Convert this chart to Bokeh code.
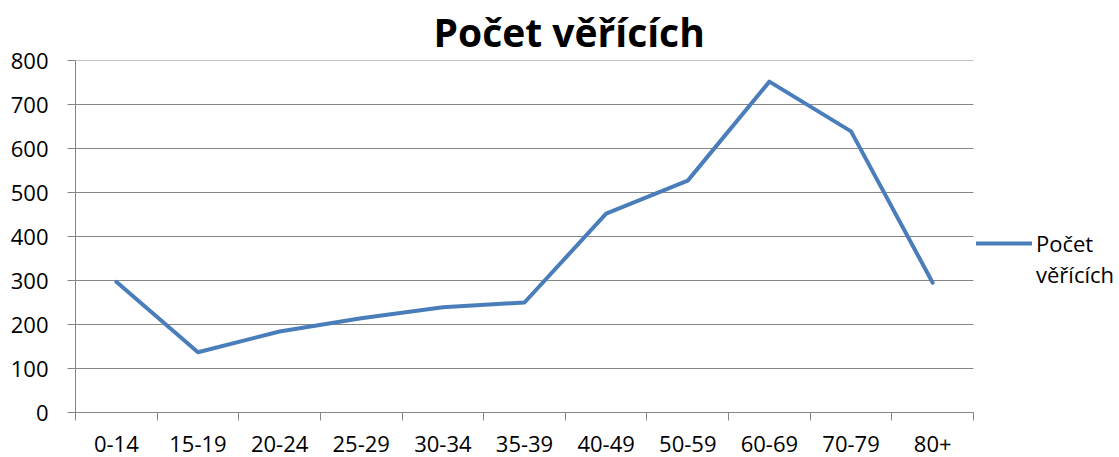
from bokeh.plotting import figure
from bokeh.models import (Range1d, FixedTicker, Legend, LegendItem)
from bokeh.embed import file_html
from bokeh.resources import INLINE

categories = ["0-14", "15-19", "20-24", "25-29", "30-34", "35-39",
              "40-49", "50-59", "60-69", "70-79", "80+"]
believers = [297, 137, 184, 214, 239, 250, 452, 527, 752, 639, 295]
y_ticks = [0, 100, 200, 300, 400, 500, 600, 700, 800]
title_text = "Počet věřících"
series_lines = ["Počet", "věřících"]

FONT = "Open Sans"
GRAY = "#868686"
BLUE = "#4A7EBB"

W, H = 1119, 457
PLOT_LEFT, PLOT_RIGHT = 75, 973      # pixel extent of the category area
n = len(categories)
x_pos = [i + 0.5 for i in range(n)]
# the frame runs to the right edge so the legend can sit inside it
x_end = n * (W - PLOT_LEFT) / (PLOT_RIGHT - PLOT_LEFT)

p = figure(width=W, height=H, output_backend="svg", toolbar_location=None,
           x_range=Range1d(0, x_end), y_range=Range1d(0, y_ticks[-1]),
           min_border_left=PLOT_LEFT, min_border_right=0, min_border_top=60,
           min_border_bottom=45)
p.outline_line_color = None
p.background_fill_color = "white"
p.border_fill_color = "white"

p.title.text = title_text
p.title.align = "left"
p.title.offset = 358
p.title.standoff = 5
p.title.text_font = FONT
p.title.text_font_size = "39px"
p.title.text_font_style = "bold"
p.title.text_color = "#000000"

# y axis
ya = p.yaxis[0]
ya.ticker = FixedTicker(ticks=y_ticks)
ya.axis_line_color = GRAY
ya.major_tick_line_color = GRAY
ya.major_tick_in = 0
ya.major_tick_out = 8
ya.minor_tick_line_color = None
ya.major_label_text_font = FONT
ya.major_label_text_font_size = "22px"
ya.major_label_text_color = "#000000"
ya.major_label_standoff = 19

# x axis: labels at category centres, tick marks at category boundaries
xa = p.xaxis[0]
xa.bounds = (0, n)
xa.ticker = FixedTicker(ticks=x_pos, minor_ticks=list(range(n + 1)))
xa.major_label_overrides = {x: c for x, c in zip(x_pos, categories)}
xa.axis_line_color = GRAY
xa.major_tick_line_color = None
xa.major_tick_in = 0
xa.major_tick_out = 0
xa.minor_tick_line_color = GRAY
xa.minor_tick_in = 0
xa.minor_tick_out = 8
xa.major_label_text_font = FONT
xa.major_label_text_font_size = "22px"
xa.major_label_text_color = "#000000"
xa.major_label_standoff = 15

p.xgrid.grid_line_color = None
p.ygrid.grid_line_color = None
# horizontal gridlines over the category area only
p.segment(x0=[0] * len(y_ticks), x1=[n] * len(y_ticks), y0=y_ticks, y1=y_ticks,
          line_color=GRAY, line_width=1)

r = p.line(x_pos, believers, line_width=4, line_color=BLUE,
           line_join="round", line_cap="round")
r_blank = p.line([], [], line_alpha=0)

legend = Legend(items=[LegendItem(label=series_lines[0], renderers=[r]),
                       LegendItem(label=series_lines[1], renderers=[r_blank])],
                location=(PLOT_RIGHT - PLOT_LEFT + 3, 123), border_line_color=None,
                background_fill_alpha=0, padding=0, margin=0, spacing=1,
                glyph_width=56, glyph_height=20, label_standoff=4,
                label_text_font=FONT, label_text_font_size="22px",
                label_text_color="#000000")
p.add_layout(legend, "center")

open("out.html", "w").write(file_html(p, INLINE))
